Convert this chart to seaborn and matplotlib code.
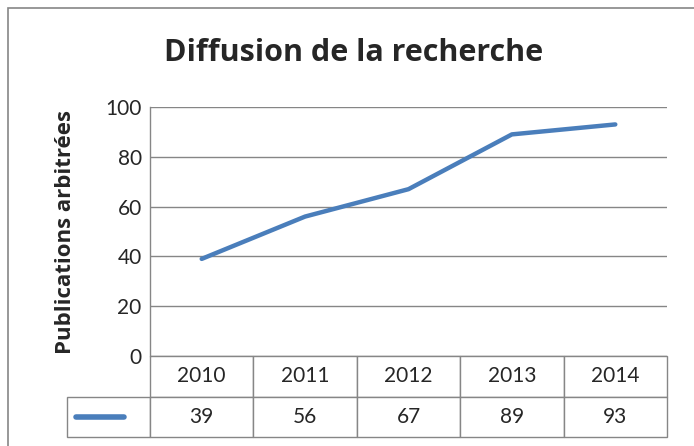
import matplotlib
matplotlib.use("Agg")
import matplotlib.pyplot as plt
import seaborn as sns
import pandas as pd
from matplotlib.patches import Rectangle
from matplotlib.lines import Line2D

# données
years = ["2010", "2011", "2012", "2013", "2014"]
publications = [39, 56, 67, 89, 93]
title = "Diffusion de la recherche"
ylabel = "Publications arbitrées"

df = pd.DataFrame({"pos": range(len(years)), "val": publications})

sns.set_style("white")
plt.rcParams["font.family"] = ["Lato", "DejaVu Sans"]
bold_font = ["Open Sans", "DejaVu Sans"]

W, H = 694, 446
fig = plt.figure(figsize=(W / 100, H / 100), dpi=100)

def fx(px):
    return px / W

def fy(px):
    return 1 - px / H

# zone du graphique (px): gauche 150, droite 667, haut 107, bas 356
ax = fig.add_axes([fx(150), fy(356), fx(667 - 150), (356 - 107) / H])

sns.lineplot(data=df, x="pos", y="val", ax=ax, color="#4A7EBB", linewidth=3.2)

ax.set_xlim(-0.5, len(years) - 0.5)
ax.set_ylim(0, 100)
ax.set_yticks(range(0, 101, 20))
ax.set_xticks([])
ax.set_xlabel("")
ax.set_ylabel(ylabel, fontsize=16, fontweight="bold", family=bold_font, labelpad=21)
ax.tick_params(axis="y", labelsize=15, length=0, pad=6)
ax.grid(axis="y", color="#868686", linewidth=1)
for s in ["top", "right", "bottom"]:
    ax.spines[s].set_visible(False)
ax.spines["left"].set_color("#868686")
ax.spines["left"].set_linewidth(1)

# tableau de données sous le graphique
first_w = 83
col_w = (667 - 150) / len(years)
widths = [first_w] + [col_w] * len(years)
tot = sum(widths)
cell_text = [[""] + years, [""] + [str(v) for v in publications]]
tab = ax.table(cellText=cell_text, colWidths=[w / tot for w in widths],
               cellLoc="center",
               bbox=[-(first_w / 517), -(437 - 356) / 249, tot / 517, (437 - 356) / 249])
tab.auto_set_font_size(False)
for (r, c), cell in tab.get_celld().items():
    cell.set_edgecolor("#868686")
    cell.set_linewidth(1)
    cell.get_text().set_fontsize(15)
    if r == 0 and c == 0:
        cell.visible_edges = ""
    elif r == 1 and c == 0:
        cell.visible_edges = "closed"

# légende dans la première cellule
leg_y = -(417 - 356) / 249
ax.add_line(Line2D([-(74 / 517), -(26 / 517)], [leg_y, leg_y],
                   transform=ax.transAxes, color="#4A7EBB", linewidth=4,
                   solid_capstyle="round", clip_on=False))

fig.text(fx(354), fy(53), title, ha="center", va="center",
         fontsize=22, fontweight="bold", family=bold_font)

# cadre du graphique
fig.patches.append(Rectangle((fx(8), -0.05), 1.1, fy(8) + 0.05, transform=fig.transFigure,
                             fill=False, edgecolor="#868686", linewidth=1.2))

fig.savefig("out.png", dpi=100)
